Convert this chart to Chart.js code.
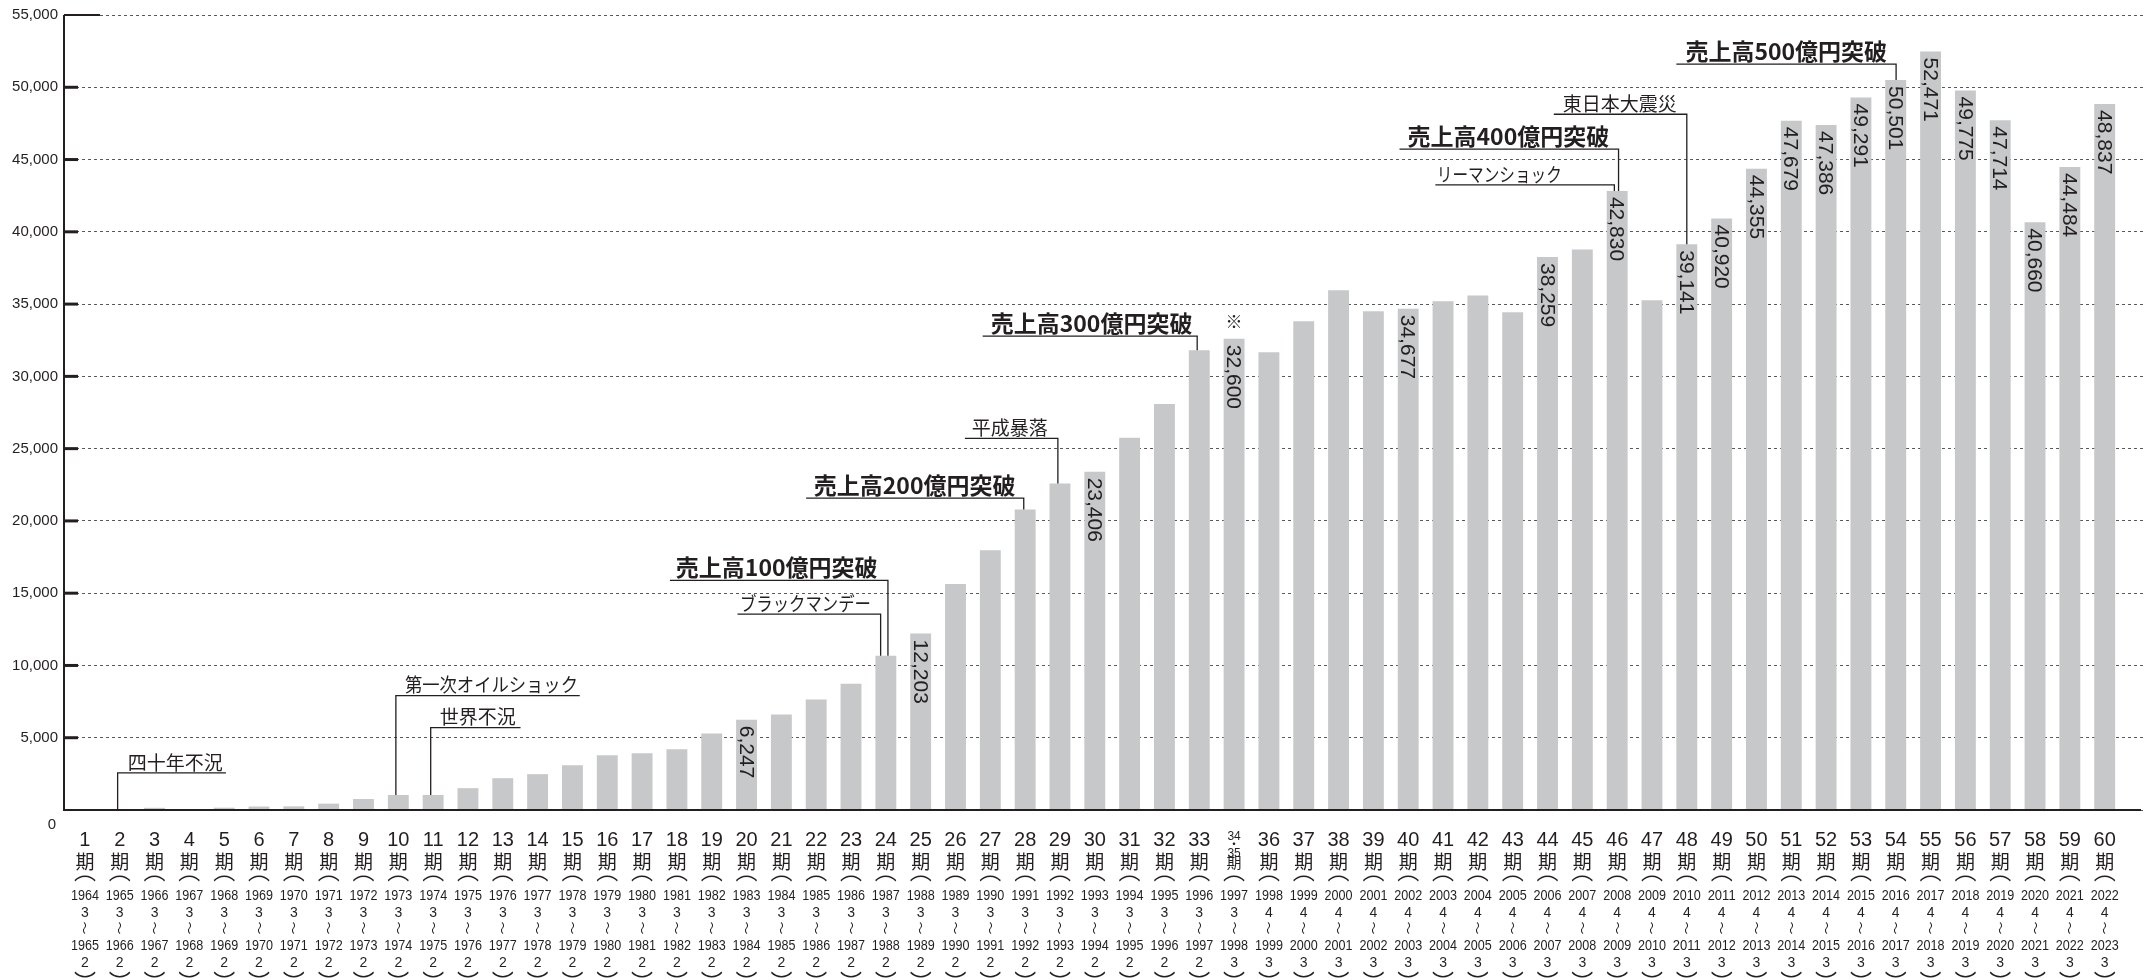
<!DOCTYPE html>
<html><head><meta charset="utf-8">
<script src="https://cdn.jsdelivr.net/npm/chart.js@4"></script>
<style>html,body{margin:0;padding:0;background:#fff;}#wrap{width:2152px;height:980px;}</style>
</head><body><div id="wrap"><canvas id="c" width="2152" height="980"></canvas></div>
<script>
// ---------- data ----------
const periods = ['1','2','3','4','5','6','7','8','9','10','11','12','13','14','15','16','17','18','19','20',
  '21','22','23','24','25','26','27','28','29','30','31','32','33','34・35','36','37','38','39','40','41',
  '42','43','44','45','46','47','48','49','50','51','52','53','54','55','56','57','58','59','60'];
const startYears = [1964,1965,1966,1967,1968,1969,1970,1971,1972,1973,1974,1975,1976,1977,1978,1979,1980,1981,1982,1983,
  1984,1985,1986,1987,1988,1989,1990,1991,1992,1993,1994,1995,1996,1997,1998,1999,2000,2001,2002,2003,
  2004,2005,2006,2007,2008,2009,2010,2011,2012,2013,2014,2015,2016,2017,2018,2019,2020,2021,2022];
const startMonths = [3,3,3,3,3,3,3,3,3,3,3,3,3,3,3,3,3,3,3,3,3,3,3,3,3,3,3,3,3,3,3,3,3,3,
  4,4,4,4,4,4,4,4,4,4,4,4,4,4,4,4,4,4,4,4,4,4,4,4,4];
const endYears = [1965,1966,1967,1968,1969,1970,1971,1972,1973,1974,1975,1976,1977,1978,1979,1980,1981,1982,1983,1984,
  1985,1986,1987,1988,1989,1990,1991,1992,1993,1994,1995,1996,1997,1998,1999,2000,2001,2002,2003,2004,
  2005,2006,2007,2008,2009,2010,2011,2012,2013,2014,2015,2016,2017,2018,2019,2020,2021,2022,2023];
const endMonths = [2,2,2,2,2,2,2,2,2,2,2,2,2,2,2,2,2,2,2,2,2,2,2,2,2,2,2,2,2,2,2,2,2,3,
  3,3,3,3,3,3,3,3,3,3,3,3,3,3,3,3,3,3,3,3,3,3,3,3,3];
const sales = [50,60,150,60,160,240,250,440,760,1040,1040,1510,2200,2480,3100,3790,3930,4200,5300,6247,
  6610,7640,8740,10670,12203,15630,17970,20790,22580,23406,25750,28090,31810,32600,31670,33810,35950,34500,34677,35190,
  35600,34430,38259,38770,42830,35260,39141,40920,44355,47679,47386,49291,50501,52471,49775,47714,40660,44484,48837];
const labeledPeriods = ['20','25','30','34・35','40','44','46','48','49','50','51','52','53','54','55','56','57','58','59','60'];
const notePeriod = '34・35';
const noteMark = '※';
const yTicks = [0,5000,10000,15000,20000,25000,30000,35000,40000,45000,50000,55000];
const calloutTexts = ['四十年不況','第一次オイルショック','世界不況','ブラックマンデー','売上高100億円突破','売上高200億円突破',
  '平成暴落','売上高300億円突破','リーマンショック','売上高400億円突破','東日本大震災','売上高500億円突破'];
const calloutPeriods = ['2','10','11','24','24','28','29','33','46','46','48','54'];
const calloutBold = [false,false,false,false,true,true,false,true,false,true,false,true];

// ---------- layout of callouts (axis units: x = bar position, y = sales) ----------
const calloutLayout = [
  {lineY:2569,  x0:1.94,  x1:5.05,  tx:2.23,  from:'start'},
  {lineY:7919,  x0:9.93,  x1:15.21, tx:10.19, from:'start', w:173},
  {lineY:5695,  x0:10.93, x1:13.51, tx:11.19, from:'start'},
  {lineY:13545, x0:19.74, x1:23.85, tx:19.81, from:'end', w:131},
  {lineY:15887, x0:17.80, x1:24.06, tx:17.97, from:'end'},
  {lineY:21575, x0:21.71, x1:27.96, tx:21.93, from:'end'},
  {lineY:25707, x0:26.27, x1:28.94, tx:26.47, from:'end'},
  {lineY:32779, x0:26.78, x1:32.94, tx:27.01, from:'end'},
  {lineY:43246, x0:39.78, x1:44.92, tx:39.82, from:'end', w:125},
  {lineY:45725, x0:38.75, x1:45.04, tx:38.98, from:'end'},
  {lineY:48135, x0:43.18, x1:47.00, tx:43.44, from:'end'},
  {lineY:51599, x0:46.70, x1:53.01, tx:46.96, from:'end'}
];

const INK = '#231f20';
const CJK = '"Noto Sans CJK JP","Noto Sans CJK SC",sans-serif';
const LAT = '"Liberation Sans",Arial,sans-serif';

function inkText(ctx, text, x, y, maxW) {
  // draw text with its ink box vertically centred at y
  ctx.textBaseline = 'alphabetic';
  const m = ctx.measureText(text);
  const yy = y + (m.actualBoundingBoxAscent - m.actualBoundingBoxDescent) / 2;
  if (maxW) ctx.fillText(text, x, yy, maxW); else ctx.fillText(text, x, yy);
}

const overlay = {
  id: 'overlay',
  afterDraw(chart) {
    const {ctx, chartArea: a, scales: {x, y}} = chart;
    const meta = chart.getDatasetMeta(0);
    ctx.save();
    ctx.strokeStyle = INK; ctx.fillStyle = INK;
    // axes
    ctx.lineWidth = 2;
    ctx.beginPath(); ctx.moveTo(a.left, a.top); ctx.lineTo(a.left, a.bottom + 1); ctx.stroke();
    ctx.beginPath(); ctx.moveTo(a.left - 1, a.bottom); ctx.lineTo(a.right - 2, a.bottom); ctx.stroke();
    // y tick marks
    yTicks.forEach(v => {
      if (v === 0) return;
      const py = y.getPixelForValue(v);
      const top = v === yTicks[yTicks.length - 1];
      ctx.lineWidth = top ? 2 : 3;
      ctx.beginPath(); ctx.moveTo(a.left, py); ctx.lineTo(a.left + (top ? 36 : 14), py); ctx.stroke();
    });
    // zero label
    ctx.font = '15px ' + LAT; ctx.textAlign = 'right';
    inkText(ctx, '0', a.left - 8, y.getPixelForValue(0) + 14);

    // value labels (rotated)
    ctx.font = '21px ' + LAT;
    labeledPeriods.forEach(p => {
      const i = periods.indexOf(p);
      const el = meta.data[i];
      ctx.save();
      ctx.translate(el.x, el.y + 6);
      ctx.rotate(Math.PI / 2);
      ctx.textAlign = 'left'; ctx.textBaseline = 'middle';
      ctx.fillText(sales[i].toLocaleString('en-US'), 0, 1);
      ctx.restore();
    });
    // note mark
    {
      const i = periods.indexOf(notePeriod);
      const el = meta.data[i];
      ctx.font = '17px ' + CJK; ctx.textAlign = 'center';
      inkText(ctx, noteMark, el.x, el.y - 17);
    }
    // callouts
    ctx.lineWidth = 1.3;
    calloutTexts.forEach((t, k) => {
      const L = calloutLayout[k];
      const i = periods.indexOf(calloutPeriods[k]);
      const ly = y.getPixelForValue(L.lineY);
      const xs = x.getPixelForValue(L.x0), xe = x.getPixelForValue(L.x1);
      const vx = L.from === 'start' ? xs : xe;
      const other = L.from === 'start' ? xe : xs;
      const barTop = y.getPixelForValue(sales[i]);
      ctx.beginPath(); ctx.moveTo(other, ly); ctx.lineTo(vx, ly); ctx.lineTo(vx, barTop); ctx.stroke();
      const bold = calloutBold[k];
      ctx.font = (bold ? '700 23px ' : '400 19px ') + CJK;
      ctx.textAlign = 'left'; ctx.textBaseline = 'middle';
      const ty = ly - (bold ? 12.7 : 10.5);
      if (L.w) ctx.fillText(t, x.getPixelForValue(L.tx), ty, L.w); else ctx.fillText(t, x.getPixelForValue(L.tx), ty);
    });

    // x labels
    const b = a.bottom;
    ctx.textAlign = 'center';
    periods.forEach((p, i) => {
      const lx = x.getPixelForValue(i + 1);
      if (p.includes('・')) {
        const [p1, p2] = p.split('・');
        ctx.font = '12px ' + LAT; inkText(ctx, p1, lx, b + 25);
        ctx.font = '12px ' + CJK; inkText(ctx, '・', lx, b + 33);
        ctx.font = '12px ' + LAT; inkText(ctx, p2, lx, b + 42);
        ctx.font = '15px ' + CJK; inkText(ctx, '期', lx, b + 53);
      } else {
        ctx.font = '20px ' + LAT; inkText(ctx, p, lx, b + 29);
        ctx.font = '19px ' + CJK; inkText(ctx, '期', lx, b + 51);
      }
      ctx.font = '22px ' + CJK; inkText(ctx, '︵', lx, b + 68);
      ctx.font = '14px ' + LAT;
      inkText(ctx, String(startYears[i]), lx, b + 85, 28);
      inkText(ctx, String(startMonths[i]), lx, b + 101.7);
      ctx.save(); ctx.translate(lx, b + 118); ctx.rotate(Math.PI / 2);
      ctx.font = '13px ' + CJK; inkText(ctx, '〜', 0, 0); ctx.restore();
      ctx.font = '14px ' + LAT;
      inkText(ctx, String(endYears[i]), lx, b + 135, 28);
      inkText(ctx, String(endMonths[i]), lx, b + 151.7);
      ctx.font = '22px ' + CJK; inkText(ctx, '︶', lx, b + 164);
    });
    ctx.restore();
  }
};

new Chart(document.getElementById('c'), {
  type: 'bar',
  data: {
    datasets: [{
      data: sales.map((v, i) => ({x: i + 1, y: v})),
      backgroundColor: '#c7c8ca',
      borderWidth: 0,
      barPercentage: 0.6,
      categoryPercentage: 1.0
    }]
  },
  options: {
    responsive: false, animation: false, devicePixelRatio: 1,
    layout: {padding: {top: 11, right: 9, left: 0, bottom: 0}},
    plugins: {legend: {display: false}, tooltip: {enabled: false}},
    scales: {
      x: {
        type: 'linear', min: 0.4, max: 60.1, offset: false,
        grid: {display: false}, border: {display: false},
        ticks: {display: false},
        afterFit(s) { s.height = 170; }
      },
      y: {
        type: 'linear', min: 0, max: 55000,
        afterBuildTicks(s) { s.ticks = yTicks.map(v => ({value: v})); },
        afterFit(s) { s.width = 64; },
        grid: {color: '#58595b', lineWidth: 1, drawTicks: false},
        border: {display: false, dash: [3, 3]},
        ticks: {
          padding: 6, color: INK, font: {family: '"Liberation Sans",Arial,sans-serif', size: 15},
          callback: v => v === 0 ? '' : v.toLocaleString('en-US')
        }
      }
    }
  },
  plugins: [overlay]
});
</script>
</body></html>
